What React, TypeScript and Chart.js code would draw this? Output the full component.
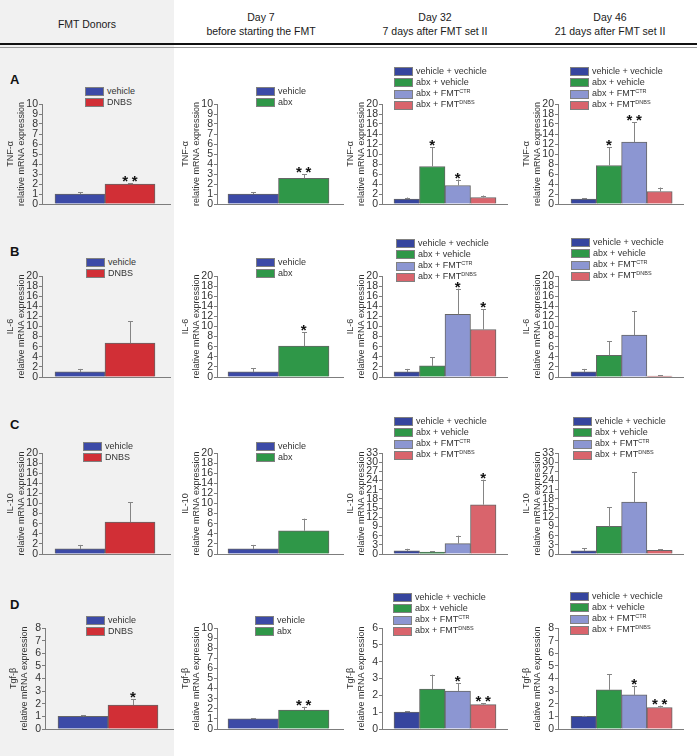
import React, { useEffect, useRef } from 'react';
import { Chart, registerables } from 'chart.js';

Chart.register(...registerables);

const FONT = '"Liberation Sans", Arial, Helvetica, sans-serif';

// ---------- texts ----------
const columnTitles: string[][] = [
  ['FMT Donors'],
  ['Day 7', 'before starting the FMT'],
  ['Day 32', '7 days after FMT set II'],
  ['Day 46', '21 days after FMT set II'],
];
const panelLetters = ['A', 'B', 'C', 'D'];
const markers = ['TNF-α', 'IL-6', 'IL-10', 'Tgf-β'];
const yAxisSubtitle = 'relative mRNA expression';

// ---------- groups ----------
const donorGroups = ['vehicle', 'DNBS'];
const donorGroupSup = ['', ''];
const day7Groups = ['vehicle', 'abx'];
const day7GroupSup = ['', ''];
const fmtGroups = ['vehicle + vechicle', 'abx + vehicle', 'abx + FMT', 'abx + FMT'];
const fmtGroupSup = ['', '', 'CTR', 'DNBS'];

// ---------- y axis ranges (per marker row) ----------
const yMaxDonors = [10, 20, 20, 8];
const yStepDonors = [1, 2, 2, 1];
const yMaxDay7 = [10, 20, 20, 10];
const yStepDay7 = [1, 2, 2, 1];
const yMaxDay32 = [20, 20, 33, 6];
const yStepDay32 = [2, 2, 3, 1];
const yMaxDay46 = [20, 20, 33, 8];
const yStepDay46 = [2, 2, 3, 1];

// ---------- TNF-α ----------
const tnfDonorsMean = [1.0, 2.0];
const tnfDonorsErr = [0.16, 0.1];
const tnfDonorsSig = ['', '**'];
const tnfDay7Mean = [1.0, 2.57];
const tnfDay7Err = [0.2, 0.4];
const tnfDay7Sig = ['', '**'];
const tnfDay32Mean = [1.0, 7.5, 3.7, 1.3];
const tnfDay32Err = [0.3, 3.9, 1.2, 0.4];
const tnfDay32Sig = ['', '*', '*', ''];
const tnfDay46Mean = [1.0, 7.7, 12.4, 2.5];
const tnfDay46Err = [0.2, 3.7, 4.0, 0.8];
const tnfDay46Sig = ['', '*', '**', ''];

// ---------- IL-6 ----------
const il6DonorsMean = [1.0, 6.7];
const il6DonorsErr = [0.6, 4.3];
const il6DonorsSig = ['', ''];
const il6Day7Mean = [1.0, 6.1];
const il6Day7Err = [0.7, 2.75];
const il6Day7Sig = ['', '*'];
const il6Day32Mean = [1.0, 2.2, 12.4, 9.4];
const il6Day32Err = [0.6, 1.7, 5.1, 4.0];
const il6Day32Sig = ['', '', '*', '*'];
const il6Day46Mean = [1.0, 4.3, 8.3, 0.2];
const il6Day46Err = [0.6, 2.8, 4.7, 0.15];
const il6Day46Sig = ['', '', '', ''];

// ---------- IL-10 ----------
const il10DonorsMean = [1.0, 6.3];
const il10DonorsErr = [0.8, 3.9];
const il10DonorsSig = ['', ''];
const il10Day7Mean = [1.0, 4.6];
const il10Day7Err = [0.8, 2.4];
const il10Day7Sig = ['', ''];
const il10Day32Mean = [1.0, 0.6, 3.4, 16.1];
const il10Day32Err = [0.7, 0.3, 2.6, 8.2];
const il10Day32Sig = ['', '', '', '*'];
const il10Day46Mean = [1.0, 9.0, 17.0, 1.2];
const il10Day46Err = [0.8, 6.2, 9.7, 0.4];
const il10Day46Sig = ['', '', '', ''];

// ---------- Tgf-β ----------
const tgfDonorsMean = [1.0, 1.9];
const tgfDonorsErr = [0.08, 0.47];
const tgfDonorsSig = ['', '*'];
const tgfDay7Mean = [1.0, 1.88];
const tgfDay7Err = [0.05, 0.32];
const tgfDay7Sig = ['', '**'];
const tgfDay32Mean = [1.0, 2.37, 2.26, 1.45];
const tgfDay32Err = [0.06, 0.86, 0.45, 0.07];
const tgfDay32Sig = ['', '', '*', '**'];
const tgfDay46Mean = [1.0, 3.1, 2.7, 1.7];
const tgfDay46Err = [0.05, 1.25, 0.73, 0.15];
const tgfDay46Sig = ['', '', '*', '**'];

// ---------- styles ----------
const donorColors = ['#3c4aa7', '#d12f36'];
const day7Colors = ['#3c4aa7', '#2f9748'];
const fmtColors = ['#36459e', '#2f9748', '#8c96d2', '#d9646c'];

// ---------- layout ----------
const colAxisX = [42, 217, 382, 558];
const colRight = [170, 343, 507, 683];
const colBarLeft = [55, 228, 394, 571];
const colBarW = [50, 50.5, 25.5, 25.3];
const colCenter = [87, 261, 435, 610];
const rowTop = [104, 276, 453, 628];
const rowBottom = [204, 377, 554, 729];
const letterY = [80, 252, 425, 605];
const legendPos: number[][][] = [
  [[85, 87], [256, 87], [394, 67], [570, 67]],
  [[86, 258], [256, 258], [396, 239], [571, 238]],
  [[83, 442], [256, 442], [394, 417], [573, 417]],
  [[86, 616], [255, 616], [393, 593], [570, 592]],
];

const meansTable = [
  [tnfDonorsMean, tnfDay7Mean, tnfDay32Mean, tnfDay46Mean],
  [il6DonorsMean, il6Day7Mean, il6Day32Mean, il6Day46Mean],
  [il10DonorsMean, il10Day7Mean, il10Day32Mean, il10Day46Mean],
  [tgfDonorsMean, tgfDay7Mean, tgfDay32Mean, tgfDay46Mean],
];
const errTable = [
  [tnfDonorsErr, tnfDay7Err, tnfDay32Err, tnfDay46Err],
  [il6DonorsErr, il6Day7Err, il6Day32Err, il6Day46Err],
  [il10DonorsErr, il10Day7Err, il10Day32Err, il10Day46Err],
  [tgfDonorsErr, tgfDay7Err, tgfDay32Err, tgfDay46Err],
];
const sigTable = [
  [tnfDonorsSig, tnfDay7Sig, tnfDay32Sig, tnfDay46Sig],
  [il6DonorsSig, il6Day7Sig, il6Day32Sig, il6Day46Sig],
  [il10DonorsSig, il10Day7Sig, il10Day32Sig, il10Day46Sig],
  [tgfDonorsSig, tgfDay7Sig, tgfDay32Sig, tgfDay46Sig],
];
const yMaxCols = [yMaxDonors, yMaxDay7, yMaxDay32, yMaxDay46];
const yStepCols = [yStepDonors, yStepDay7, yStepDay32, yStepDay46];
const groupCols = [donorGroups, day7Groups, fmtGroups, fmtGroups];
const supCols = [donorGroupSup, day7GroupSup, fmtGroupSup, fmtGroupSup];
const colorCols = [donorColors, day7Colors, fmtColors, fmtColors];

type PanelProps = {
  means: number[];
  errs: number[];
  sig: string[];
  colors: string[];
  yMax: number;
  yStep: number;
  yLabel: string;
  axisX: number;
  top: number;
  bottom: number;
  right: number;
  barLeft: number;
  barW: number;
};

const YW = 40;
const PT = 8;
const PB = 8;
const PR = 4;

function BarPanel(p: PanelProps) {
  const ref = useRef<HTMLCanvasElement>(null);
  const left = p.axisX - YW;
  const width = p.right - p.axisX + YW + PR;
  const height = p.bottom - p.top + PT + PB;

  useEffect(() => {
    const n = p.means.length;
    const xMin = -0.5 - (p.barLeft - p.axisX) / p.barW;
    const xMax = n - 0.5 + (p.right - (p.barLeft + n * p.barW)) / p.barW;

    const errPlugin = {
      id: 'errbars',
      afterDatasetsDraw(chart: any) {
        const meta = chart.getDatasetMeta(0);
        const ys = chart.scales.y;
        const ctx = chart.ctx;
        ctx.save();
        meta.data.forEach((el: any, i: number) => {
          const x = Math.round(el.x) + 0.5;
          const yTop = ys.getPixelForValue(p.means[i]);
          const yErr = ys.getPixelForValue(p.means[i] + p.errs[i]);
          ctx.strokeStyle = '#858585';
          ctx.lineWidth = 1;
          ctx.beginPath();
          ctx.moveTo(x, yTop);
          ctx.lineTo(x, yErr);
          ctx.moveTo(x - 2.5, Math.round(yErr) + 0.5);
          ctx.lineTo(x + 2.5, Math.round(yErr) + 0.5);
          ctx.stroke();
          const s = p.sig[i];
          if (s) {
            const count = s.length;
            ctx.fillStyle = '#111';
            ctx.font = 'bold 15px ' + FONT;
            ctx.textAlign = 'center';
            ctx.textBaseline = 'alphabetic';
            for (let k = 0; k < count; k++) {
              const cx = el.x + (k - (count - 1) / 2) * 9.5;
              ctx.fillText('*', cx, yErr + 3);
            }
          }
        });
        ctx.restore();
      },
    };

    const chart = new Chart(ref.current as HTMLCanvasElement, {
      type: 'bar',
      data: {
        datasets: [
          {
            data: p.means.map((v, i) => ({ x: i, y: v })),
            backgroundColor: p.colors,
            borderColor: '#666',
            borderWidth: 1,
            barThickness: p.barW,
          } as any,
        ],
      },
      options: {
        animation: false,
        responsive: false,
        devicePixelRatio: 1,
        events: [],
        layout: { padding: { top: PT, bottom: PB, left: 0, right: PR } },
        plugins: { legend: { display: false }, tooltip: { enabled: false } },
        scales: {
          x: {
            type: 'linear',
            min: xMin,
            max: xMax,
            offset: false,
            z: 1,
            ticks: { display: false },
            grid: { display: false, drawTicks: false, offset: false },
            border: { display: true, color: '#7d7d7d', width: 1 },
          },
          y: {
            min: 0,
            max: p.yMax,
            ticks: {
              stepSize: p.yStep,
              autoSkip: false,
              padding: 1,
              color: '#333',
              font: { family: FONT, size: 10.5, lineHeight: 1 },
            },
            grid: {
              display: true,
              drawOnChartArea: false,
              drawTicks: true,
              tickLength: 3,
              color: '#7d7d7d',
            },
            border: { display: true, color: '#7d7d7d', width: 1 },
            title: {
              display: true,
              text: [p.yLabel, yAxisSubtitle],
              color: '#333',
              font: { family: FONT, size: 9, lineHeight: 1.15 },
              padding: { top: 3.8, bottom: 0 },
            },
            afterFit: (s: any) => {
              s.width = YW;
            },
          },
        },
      } as any,
      plugins: [errPlugin],
    });
    return () => chart.destroy();
  }, []);

  return (
    <canvas
      ref={ref}
      width={width}
      height={height}
      style={{ position: 'absolute', left, top: p.top - PT, width, height }}
    />
  );
}

function Legend(props: { x: number; y: number; labels: string[]; sups: string[]; colors: string[] }) {
  const pitch = props.labels.length > 2 ? 11.3 : 10.7;
  return (
    <>
      {props.labels.map((l, i) => (
        <div
          key={i}
          style={{
            position: 'absolute',
            left: props.x,
            top: props.y + i * pitch,
            height: 9,
            display: 'flex',
            alignItems: 'center',
            whiteSpace: 'nowrap',
          }}
        >
          <div
            style={{
              width: 19,
              height: 9,
              boxSizing: 'border-box',
              border: '1px solid #808080',
              background: props.colors[i],
            }}
          />
          <span style={{ marginLeft: 3, fontSize: 9, color: '#333', lineHeight: '9px', fontFamily: FONT }}>
            {l}
            {props.sups[i] ? (
              <span style={{ fontSize: 5.5, position: 'relative', top: -3.5 }}>{props.sups[i]}</span>
            ) : null}
          </span>
        </div>
      ))}
    </>
  );
}

export default function App() {
  const cells: React.ReactNode[] = [];
  for (let r = 0; r < 4; r++) {
    for (let c = 0; c < 4; c++) {
      const shift = r === 3 && c === 0 ? 3 : 0;
      cells.push(
        <BarPanel
          key={`p${r}${c}`}
          means={meansTable[r][c]}
          errs={errTable[r][c]}
          sig={sigTable[r][c]}
          colors={colorCols[c]}
          yMax={yMaxCols[c][r]}
          yStep={yStepCols[c][r]}
          yLabel={markers[r]}
          axisX={colAxisX[c] + shift}
          top={rowTop[r]}
          bottom={rowBottom[r]}
          right={colRight[c] + shift}
          barLeft={colBarLeft[c] + shift}
          barW={colBarW[c]}
        />
      );
      cells.push(
        <Legend
          key={`l${r}${c}`}
          x={legendPos[r][c][0]}
          y={legendPos[r][c][1]}
          labels={groupCols[c]}
          sups={supCols[c]}
          colors={colorCols[c]}
        />
      );
    }
  }

  return (
    <div
      style={{
        position: 'absolute',
        left: 0,
        top: 0,
        width: 697,
        height: 756,
        background: '#fff',
        overflow: 'hidden',
        fontFamily: FONT,
      }}
    >
      <div style={{ position: 'absolute', left: 0, top: 0, width: 174, height: 756, background: '#f1f1f1' }} />
      {columnTitles.map((lines, c) => (
        <div
          key={`h${c}`}
          style={{
            position: 'absolute',
            left: colCenter[c] - 87,
            width: 174,
            top: lines.length === 1 ? 17 : 10,
            textAlign: 'center',
            fontSize: 10.5,
            lineHeight: '14px',
            color: '#1a1a1a',
          }}
        >
          {lines.map((t, i) => (
            <div key={i}>{t}</div>
          ))}
        </div>
      ))}
      <div style={{ position: 'absolute', left: 0, top: 43, width: 697, height: 2, background: '#111' }} />
      <div style={{ position: 'absolute', left: 0, top: 47, width: 697, height: 1, background: '#9a9a9a' }} />
      {panelLetters.map((t, r) => (
        <div
          key={`t${r}`}
          style={{
            position: 'absolute',
            left: 10,
            top: letterY[r] - 8,
            fontSize: 13,
            lineHeight: '16px',
            fontWeight: 'bold',
            color: '#111',
          }}
        >
          {t}
        </div>
      ))}
      {cells}
    </div>
  );
}
